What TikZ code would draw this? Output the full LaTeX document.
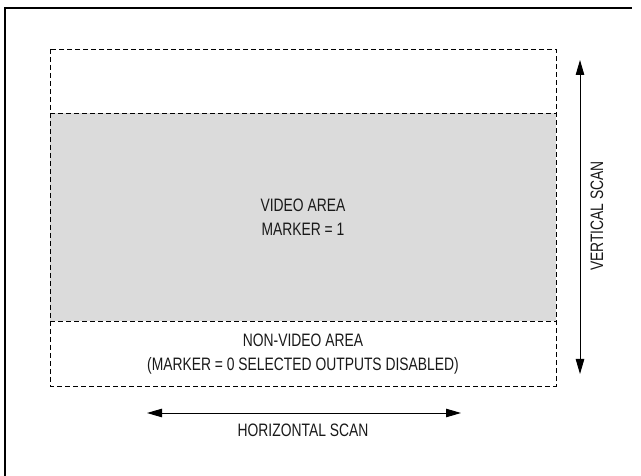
\documentclass[tikz,border=0pt]{standalone}
\usepackage{fontspec}
\setmainfont{Liberation Sans}[FakeStretch=0.77]
\usetikzlibrary{arrows.meta, positioning}

\begin{document}
\begin{tikzpicture}[x=1pt,y=-1pt,
	lbl/.style={font=\fontsize{18}{23.5}\selectfont, align=center, text=black!90, inner sep=0pt},
	scanarrow/.style={{Triangle[length=15pt,width=8.5pt]}-{Triangle[length=15pt,width=8.5pt]}, line width=0.9pt},
	area/.style={dash pattern=on 5pt off 3pt, line width=0.9pt}]
	\useasboundingbox (0,0) rectangle (641,476);
	
	% frame
	\draw[line width=2pt] (5,476) -- (5,8) -- (632,8);
	
	% areas
	\fill[black!14] (50,113) rectangle (556,321);
	\draw[area] (50,49) rectangle (556,386);
	\draw[area] (50,113) -- (556,113);
	\draw[area] (50,321) -- (556,321);
	\node[lbl] (video) at (303,217) {VIDEO AREA\\MARKER = 1};
	\node[lbl] (nonvideo) at (303,354) {NON-VIDEO AREA\\(MARKER = 0 SELECTED OUTPUTS DISABLED)};
	
	% scan arrows
	\coordinate (vtop) at (580,60);
	\coordinate (vbot) at (580,374);
	\draw[scanarrow] (vtop) -- (vbot);
	\node[lbl, rotate=90] (vscan) at (597,216) {VERTICAL SCAN};
	
	\coordinate (hleft) at (147,413);
	\coordinate (hright) at (461,413);
	\draw[scanarrow] (hleft) -- (hright);
	\node[lbl] (hscan) at (303,430) {HORIZONTAL SCAN};
\end{tikzpicture}
\end{document}
